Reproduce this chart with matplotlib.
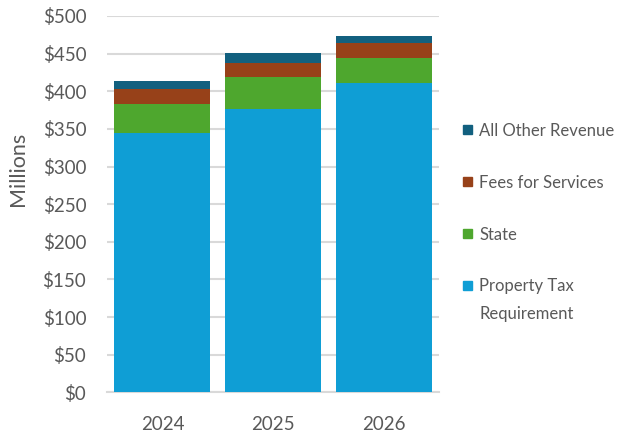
import numpy as np
import matplotlib.pyplot as plt
from matplotlib.patches import Rectangle

plt.rcParams['font.family'] = ['Lato', 'DejaVu Sans']

# revenue by source, $ millions
years = ['2024', '2025', '2026']
property_tax = [345.0, 377.0, 410.5]
state = [38.5, 42.0, 34.0]
fees = [19.0, 18.5, 19.5]
other = [11.5, 13.5, 9.5]

series = [
    ('Property Tax\nRequirement', property_tax, '#0f9ed5'),
    ('State', state, '#4ea72e'),
    ('Fees for Services', fees, '#974119'),
    ('All Other Revenue', other, '#12607f'),
]

grey = '#595959'
W, H = 619, 438

fig = plt.figure(figsize=(W / 100, H / 100), dpi=100)
ax = fig.add_axes([0.173, 0.1043, 0.5367, 0.8592])

x = np.arange(len(years))
bottom = np.zeros(len(years))
for label, vals, color in series:
    ax.bar(x, vals, 0.867, bottom=bottom, color=color, label=label, zorder=3)
    bottom += np.array(vals)

ax.set_xlim(-0.5, 2.5)
ax.set_ylim(0, 500)
ax.set_yticks(np.arange(0, 501, 50))
ax.set_yticklabels([f'${v}' for v in range(0, 501, 50)])
ax.set_xticks(x)
ax.set_xticklabels(years)

ax.yaxis.grid(True, color='#d9d9d9', lw=1.5, zorder=0)
for s in ['top', 'right', 'left']:
    ax.spines[s].set_visible(False)
ax.spines['bottom'].set_color('#d9d9d9')
ax.spines['bottom'].set_linewidth(1.5)
ax.tick_params(axis='y', length=0, pad=15, labelsize=13.5, labelcolor=grey)
ax.tick_params(axis='x', length=0, pad=17, labelsize=13.5, labelcolor=grey)

ax.set_ylabel('Millions', fontsize=15.5, color=grey)
ax.yaxis.set_label_coords(-0.238, 0.593)

# legend, top entry first, one row every 52 px; wrapped labels get 28 px per line
for i, (label, vals, color) in enumerate(series[::-1]):
    yc = 129 + 52 * i
    fig.patches.append(Rectangle((463 / W, 1 - (yc + 4.5) / H), 9 / W, 9 / H,
                                 transform=fig.transFigure, color=color))
    for j, line in enumerate(label.split('\n')):
        fig.text(479 / W, 1 - (yc + 28 * j) / H, line, fontsize=12, color=grey,
                 va='center_baseline', ha='left')

fig.savefig('out.png', dpi=100)
